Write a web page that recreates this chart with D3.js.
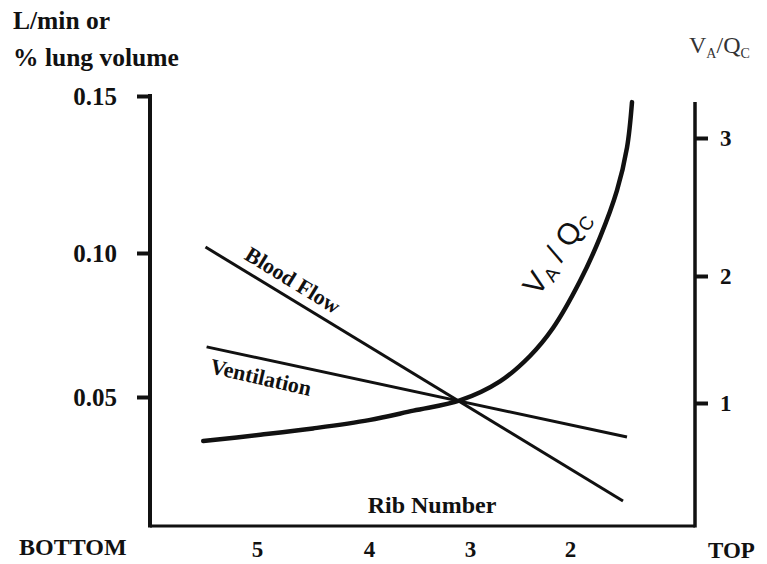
<!DOCTYPE html>
<html><head><meta charset="utf-8">
<script src="https://cdn.jsdelivr.net/npm/d3@7"></script>
<style>body{margin:0;background:#fff} svg{display:block}</style>
</head><body>
<svg id="c" width="767" height="564"></svg>
<script>
// ---- data ----
const ribTicks = [5, 4, 3, 2];
const leftTicks = [0.05, 0.10, 0.15];
const rightTicks = [1, 2, 3];
const bloodRib = [5.46, 1.47];
const bloodVal = [0.1019, 0.0139];
const ventRib = [5.45, 1.43];
const ventVal = [0.0674, 0.0361];
const vqRib = [5.48, 4.97, 4.5, 4.0, 3.56, 3.1, 2.7, 2.4, 2.17, 1.9, 1.7, 1.53, 1.43, 1.38];
const vqVal = [0.70, 0.75, 0.80, 0.865, 0.94, 1.02, 1.17, 1.37, 1.59, 1.96, 2.28, 2.62, 2.93, 3.26];

// ---- layout ----
const frame = {left: 150, right: 695, bottom: 526, topL: 94, topR: 102};
const serif = "'Liberation Serif','Times New Roman',serif";
const sans = "'Liberation Sans',Arial,sans-serif";

const x = d3.scaleLinear().domain([5, 4, 3, 2]).range([257, 369, 470, 570]);
const yL = d3.scaleLinear().domain([0.05, 0.10, 0.15]).range([397, 253, 96]);
const yR = d3.scaleLinear().domain([1, 2, 3]).range([403, 276, 138]);

const svg = d3.select("#c");
const ink = "#111";

// frame lines
svg.append("line").attr("x1", frame.left).attr("x2", frame.left)
  .attr("y1", frame.topL).attr("y2", frame.bottom + 1.5)
  .attr("stroke", ink).attr("stroke-width", 4);
svg.append("line").attr("x1", frame.right).attr("x2", frame.right)
  .attr("y1", frame.topR).attr("y2", frame.bottom + 1.5)
  .attr("stroke", ink).attr("stroke-width", 3.5);
svg.append("line").attr("x1", frame.left).attr("x2", frame.right)
  .attr("y1", frame.bottom).attr("y2", frame.bottom)
  .attr("stroke", ink).attr("stroke-width", 3);

// left axis
const gL = svg.append("g").attr("transform", `translate(${frame.left},0)`)
  .call(d3.axisLeft(yL).tickValues(leftTicks).tickSize(13).tickPadding(20)
    .tickFormat(d3.format(".2f")));
gL.select(".domain").remove();
gL.selectAll(".tick line").attr("stroke", ink).attr("stroke-width", 4);
gL.selectAll(".tick text").attr("font-family", serif).attr("font-weight", "bold")
  .attr("font-size", 25).attr("fill", ink);

// right axis
const gR = svg.append("g").attr("transform", `translate(${frame.right},0)`)
  .call(d3.axisRight(yR).tickValues(rightTicks).tickSize(13).tickPadding(12)
    .tickFormat(d3.format("d")));
gR.select(".domain").remove();
gR.selectAll(".tick line").attr("stroke", ink).attr("stroke-width", 4);
gR.selectAll(".tick text").attr("font-family", serif).attr("font-weight", "bold")
  .attr("font-size", 23).attr("fill", ink);

// bottom axis
const gB = svg.append("g").attr("transform", `translate(0,${frame.bottom})`)
  .call(d3.axisBottom(x).tickValues(ribTicks).tickSize(0).tickPadding(15)
    .tickFormat(d3.format("d")));
gB.select(".domain").remove();
gB.selectAll(".tick text").attr("font-family", serif).attr("font-weight", "bold")
  .attr("font-size", 23).attr("fill", ink);

// series
const toPts = (r, v) => r.map((d, i) => [d, v[i]]);
const lineL = d3.line().x(d => x(d[0])).y(d => yL(d[1]));
const lineR = d3.line().x(d => x(d[0])).y(d => yR(d[1])).curve(d3.curveCatmullRom.alpha(0.5));

svg.append("path").attr("d", lineL(toPts(bloodRib, bloodVal)))
  .attr("fill", "none").attr("stroke", ink).attr("stroke-width", 3);
svg.append("path").attr("d", lineL(toPts(ventRib, ventVal)))
  .attr("fill", "none").attr("stroke", ink).attr("stroke-width", 3);
svg.append("path").attr("d", lineR(toPts(vqRib, vqVal)))
  .attr("fill", "none").attr("stroke", ink).attr("stroke-width", 4.5).attr("stroke-linecap", "round");

// texts
function txt(str, xx, yy, opt = {}) {
  return svg.append("text").attr("x", xx).attr("y", yy)
    .attr("font-family", opt.family || serif)
    .attr("font-weight", opt.weight || "bold")
    .attr("font-size", opt.size || 24)
    .attr("text-anchor", opt.anchor || "start")
    .attr("fill", opt.fill || ink)
    .text(str);
}
txt("L/min or", 13, 29, {size: 25.5});
txt("% lung volume", 13, 66, {size: 25.5});
txt("BOTTOM", 19, 555, {size: 24});
txt("TOP", 708, 558, {size: 23});
txt("Rib Number", 432, 513, {anchor: "middle"});

// blood flow / ventilation labels
svg.append("text").attr("transform", "translate(293,280) rotate(31.5)")
  .attr("text-anchor", "middle").attr("dy", "0.35em")
  .attr("font-family", serif).attr("font-weight", "bold").attr("font-size", 22)
  .attr("fill", ink).text("Blood Flow");
svg.append("text").attr("transform", "translate(261,377) rotate(13)")
  .attr("text-anchor", "middle").attr("dy", "0.35em")
  .attr("font-family", serif).attr("font-weight", "bold").attr("font-size", 22)
  .attr("fill", ink).text("Ventilation");

// VA/QC on curve
const cl = svg.append("text").attr("transform", "translate(556,252) rotate(-56)")
  .attr("text-anchor", "middle").attr("dy", "0.35em")
  .attr("font-family", sans).attr("font-size", 30).attr("fill", ink);
cl.append("tspan").text("V");
cl.append("tspan").attr("font-size", 19).attr("dy", 5).text("A");
cl.append("tspan").attr("dy", -5).text(" / Q");
cl.append("tspan").attr("font-size", 19).attr("dy", 5).text("C");

// VA/QC title top right
const tt = svg.append("text").attr("x", 689).attr("y", 53)
  .attr("font-family", serif).attr("font-size", 24).attr("fill", "#333");
tt.append("tspan").text("V");
tt.append("tspan").attr("font-size", 14).attr("dy", 5).text("A");
tt.append("tspan").attr("dy", -5).text("/Q");
tt.append("tspan").attr("font-size", 14).attr("dy", 5).text("C");
</script>
</body></html>
